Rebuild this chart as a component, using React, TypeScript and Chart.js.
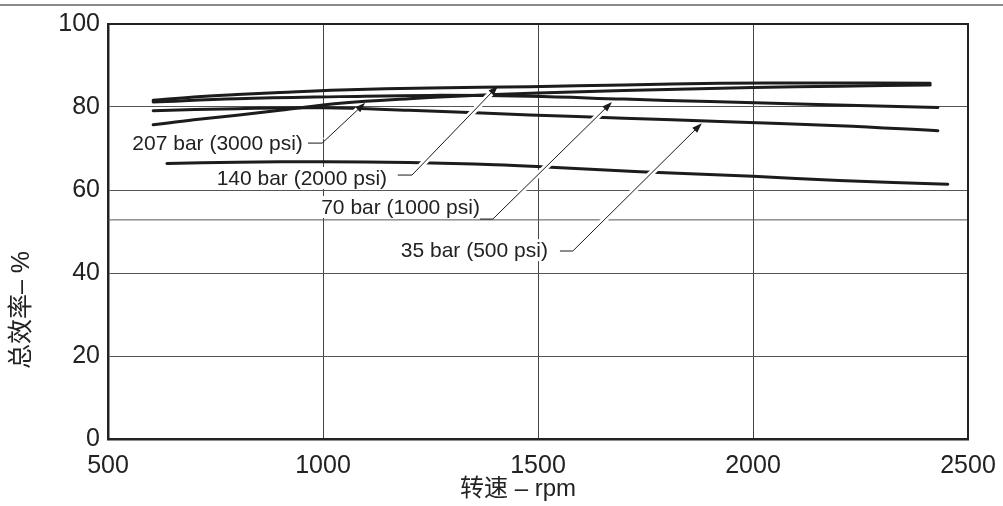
import React, { useEffect, useRef } from 'react';
import { Chart, registerables } from 'chart.js';

Chart.register(...registerables);

// ---- Data (rpm vs overall efficiency %) ----
const rpm140 = [605, 700, 800, 900, 1040, 1250, 1481, 1700, 1923, 2150, 2412];
const eff140 = [81.6, 82.4, 83.0, 83.5, 84.1, 84.6, 84.9, 85.3, 85.7, 85.8, 85.7];

const rpm70 = [605, 800, 1040, 1250, 1481, 1700, 1900, 2150, 2430];
const eff70 = [81.2, 82.0, 82.5, 82.8, 82.6, 81.9, 81.3, 80.6, 79.9];

const rpm207 = [605, 700, 800, 900, 1040, 1200, 1400, 1600, 1800, 2000, 2200, 2412];
const eff207 = [75.7, 76.9, 78.0, 79.2, 80.9, 82.0, 83.0, 83.7, 84.2, 84.7, 85.0, 85.3];

const rpm35 = [605, 800, 1000, 1200, 1481, 1700, 1923, 2200, 2430];
const eff35 = [79.1, 79.6, 79.8, 79.2, 78.1, 77.3, 76.5, 75.5, 74.3];

const rpmLow = [637, 800, 1000, 1200, 1400, 1530, 1737, 2000, 2200, 2453];
const effLow = [66.4, 66.7, 66.8, 66.6, 66.1, 65.5, 64.4, 63.3, 62.3, 61.4];

const refLineRpm = [500, 2500];
const refLineEff = [52.8, 52.8];

const xTicks = [500, 1000, 1500, 2000, 2500];
const yTicks = [0, 20, 40, 60, 80, 100];

const xTitle = '转速 – rpm';
const yTitle = '总效率– %';

// ---- Callouts ----
const labelTexts = ['207 bar (3000 psi)', '140 bar (2000 psi)', '70 bar (1000 psi)', '35 bar (500 psi)'];
const labelRightRpm = [953, 1149, 1365, 1523];
const labelEff = [71.3, 62.9, 55.9, 45.5];
const leaderStartRpm = [965, 1174, 1365, 1551];
const elbowRpm = [998, 1207, 1395, 1581];
const elbowEff = [71.3, 63.6, 53.0, 45.3];
const tipRpm = [1098, 1407, 1672, 1881];
const tipEff = [81.0, 85.1, 81.2, 76.1];

const LATIN = '"Liberation Sans", Arial, Helvetica, sans-serif';
const MIXED = '"Liberation Sans", Arial, "Noto Sans CJK SC", sans-serif';

export default function App() {
  const ref = useRef<HTMLCanvasElement>(null);

  useEffect(() => {
    const canvas = ref.current;
    if (!canvas) return;
    const pts = (xs: number[], ys: number[]) => xs.map((x, i) => ({ x, y: ys[i] }));
    const curve = {
      borderColor: '#1c1c1c',
      borderWidth: 3,
      pointRadius: 0,
      tension: 0.4,
      fill: false,
      borderCapStyle: 'round' as const,
    };

    const framePlugin = {
      id: 'frame',
      afterDatasetsDraw(chart: any) {
        const { ctx, chartArea: a } = chart;
        ctx.save();
        ctx.strokeStyle = '#222';
        ctx.lineWidth = 2;
        ctx.beginPath();
        ctx.moveTo(a.left, a.top);
        ctx.lineTo(a.right, a.top);
        ctx.lineTo(a.right, a.bottom);
        ctx.stroke();
        ctx.restore();
      },
    };

    const calloutPlugin = {
      id: 'callouts',
      afterDatasetsDraw(chart: any) {
        const { ctx } = chart;
        const xs = chart.scales.x;
        const ys = chart.scales.y;
        ctx.save();
        for (let i = 0; i < labelTexts.length; i++) {
          const sx = xs.getPixelForValue(leaderStartRpm[i]);
          const ex = xs.getPixelForValue(elbowRpm[i]);
          const ey = ys.getPixelForValue(elbowEff[i]);
          const tx = xs.getPixelForValue(tipRpm[i]);
          const ty = ys.getPixelForValue(tipEff[i]);
          const dx = tx - ex;
          const dy = ty - ey;
          const len = Math.hypot(dx, dy);
          const ux = dx / len;
          const uy = dy / len;
          // white halo on the diagonal
          ctx.strokeStyle = '#fff';
          ctx.lineWidth = 6;
          ctx.lineCap = 'butt';
          ctx.beginPath();
          ctx.moveTo(ex + ux * 4, ey + uy * 4);
          ctx.lineTo(tx - ux * 9, ty - uy * 9);
          ctx.stroke();
          // leader
          ctx.strokeStyle = '#1a1a1a';
          ctx.lineWidth = 1;
          ctx.beginPath();
          ctx.moveTo(sx, ey);
          ctx.lineTo(ex, ey);
          ctx.lineTo(tx - ux * 6, ty - uy * 6);
          ctx.stroke();
          // arrow head
          const hl = 10;
          const hw = 3.5;
          const bx = tx - ux * hl;
          const by = ty - uy * hl;
          ctx.fillStyle = '#1a1a1a';
          ctx.beginPath();
          ctx.moveTo(tx, ty);
          ctx.lineTo(bx - uy * hw, by + ux * hw);
          ctx.lineTo(bx + uy * hw, by - ux * hw);
          ctx.closePath();
          ctx.fill();
          // label
          ctx.font = `21px ${LATIN}`;
          const w = ctx.measureText(labelTexts[i]).width;
          const rx = xs.getPixelForValue(labelRightRpm[i]);
          const cy = ys.getPixelForValue(labelEff[i]);
          ctx.fillStyle = '#fff';
          ctx.fillRect(rx - w - 4, cy - 11, w + 8, 22);
          ctx.fillStyle = '#222';
          ctx.textAlign = 'right';
          ctx.textBaseline = 'middle';
          ctx.fillText(labelTexts[i], rx, cy + 1);
        }
        ctx.restore();
      },
    };

    const titlePlugin = {
      id: 'titles',
      afterDraw(chart: any) {
        const { ctx } = chart;
        ctx.save();
        ctx.fillStyle = '#222';
        ctx.textAlign = 'center';
        ctx.textBaseline = 'middle';
        ctx.font = `24px ${MIXED}`;
        ctx.fillText(xTitle, 518, 489);
        ctx.translate(22, 310);
        ctx.rotate(-Math.PI / 2);
        ctx.font = `25px ${MIXED}`;
        ctx.fillText(yTitle, 0, 0);
        ctx.restore();
      },
    };

    const chart = new Chart(canvas, {
      type: 'line',
      data: {
        datasets: [
          { ...curve, data: pts(rpm140, eff140) },
          { ...curve, data: pts(rpm70, eff70) },
          { ...curve, data: pts(rpm207, eff207) },
          { ...curve, data: pts(rpm35, eff35) },
          { ...curve, data: pts(rpmLow, effLow) },
          {
            data: pts(refLineRpm, refLineEff),
            borderColor: '#555',
            borderWidth: 1,
            pointRadius: 0,
            tension: 0,
            fill: false,
          },
        ],
      },
      options: {
        responsive: false,
        animation: false,
        devicePixelRatio: 1,
        layout: { padding: { top: 24, right: 35, left: 0, bottom: 0 } },
        plugins: { legend: { display: false }, tooltip: { enabled: false }, title: { display: false } },
        scales: {
          x: {
            type: 'linear',
            min: 500,
            max: 2500,
            afterBuildTicks: (s: any) => {
              s.ticks = xTicks.map((v) => ({ value: v }));
            },
            afterFit: (s: any) => {
              s.height = 67;
              s.paddingLeft = 0;
              s.paddingRight = 0;
            },
            grid: { color: '#444', lineWidth: 1, drawTicks: false },
            border: { color: '#222', width: 2.5 },
            ticks: {
              color: '#222',
              padding: 12,
              maxRotation: 0,
              font: { family: LATIN, size: 25 },
              callback: (v: any) => String(v),
            },
          },
          y: {
            type: 'linear',
            min: 0,
            max: 100,
            afterBuildTicks: (s: any) => {
              s.ticks = yTicks.map((v) => ({ value: v }));
            },
            afterFit: (s: any) => {
              s.width = 108;
              s.paddingTop = 0;
              s.paddingBottom = 0;
            },
            grid: { color: '#555', lineWidth: 1, drawTicks: false },
            border: { color: '#222', width: 2.5 },
            ticks: {
              color: '#222',
              padding: 8,
              font: { family: LATIN, size: 25 },
              callback: (v: any) => String(v),
            },
          },
        },
      },
      plugins: [framePlugin, calloutPlugin, titlePlugin],
    } as any);

    return () => chart.destroy();
  }, []);

  return (
    <div
      style={{
        position: 'fixed',
        left: 0,
        top: 0,
        width: 1003,
        height: 506,
        background: '#fff',
        overflow: 'hidden',
      }}
    >
      <div style={{ position: 'absolute', left: 0, top: 4, width: 1003, height: 2, background: '#8a8a8a' }} />
      <canvas ref={ref} width={1003} height={506} style={{ position: 'absolute', left: 0, top: 0, width: 1003, height: 506 }} />
    </div>
  );
}
